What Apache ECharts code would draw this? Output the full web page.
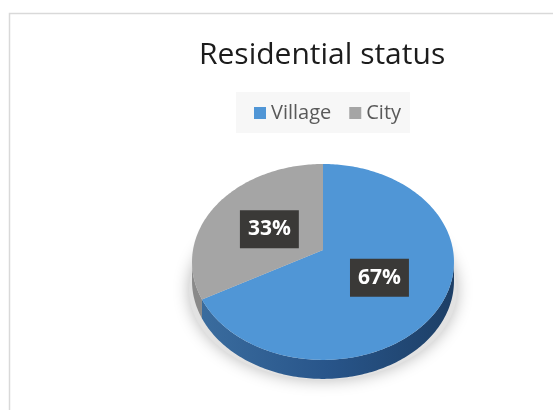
<!DOCTYPE html>
<html>
<head>
<meta charset="utf-8">
<style>
  html, body { margin: 0; padding: 0; background: #fff; }
  #main { width: 553px; height: 410px; }
</style>
<script src="https://cdn.jsdelivr.net/npm/echarts@6/dist/echarts.min.js"></script>
</head>
<body>
<div id="main"></div>
<script>
const titleText = 'Residential status'
const categories = ['Village', 'City']
const shares = [67, 33]
const topColors = ['#5096d6', '#a5a5a5']

// tilted disc: x/y centre of the pie, radii, perspective and wall height
const cx = 323, cy = 250, rx = 130, ry = 96.5, persp = 0.122, depth = 19
const frontFrom = 97, frontTo = 263   // part of the rim that faces the viewer

function project(deg, lift) {
  const a = deg * Math.PI / 180
  const w = 1 + persp * Math.cos(a)
  return [cx + rx * Math.sin(a) / w, cy - ry * Math.cos(a) / w + (lift || 0)]
}

function arcPoints(from, to, lift) {
  const pts = []
  const n = Math.max(2, Math.ceil(Math.abs(to - from)))
  for (let i = 0; i <= n; i++) {
    pts.push(project(from + (to - from) * i / n, lift))
  }
  return pts
}

function wallFill(index) {
  if (index === 1) {
    return '#8a8a8a'
  }
  return {
    type: 'linear', x: 0, y: 0, x2: 1, y2: 0,
    colorStops: [
      { offset: 0, color: '#3a6c9e' },
      { offset: 0.5, color: '#28558a' },
      { offset: 1, color: '#1d3f66' }
    ]
  }
}

function renderSlice(index) {
  return function (params, api) {
    const start = api.value(0) * 3.6
    const end = start + api.value(1) * 3.6
    const mid = (start + end) / 2
    const children = []

    // front wall
    const wallFrom = Math.max(start, frontFrom)
    const wallTo = Math.min(end, frontTo)
    if (wallTo > wallFrom) {
      children.push({
        type: 'polygon',
        shape: { points: arcPoints(wallFrom, wallTo, 0).concat(arcPoints(wallTo, wallFrom, depth)) },
        style: { fill: wallFill(index) }
      })
    }

    // top face
    children.push({
      type: 'polygon',
      shape: { points: [[cx, cy]].concat(arcPoints(start, end, 0)) },
      style: { fill: topColors[index] }
    })

    // percent label
    const a = mid * Math.PI / 180
    const w = 1 + persp * Math.cos(a)
    children.push({
      type: 'text',
      x: cx + 0.49 * rx * Math.sin(a) / w - 2,
      y: cy - 0.49 * ry * Math.cos(a) / w + 2,
      z2: 10,
      style: {
        text: api.value(1) + '%',
        fill: '#fff',
        font: 'bold 21px "Open Sans"',
        align: 'center',
        verticalAlign: 'middle',
        backgroundColor: '#3a3937',
        padding: [9, 8, 8, 8],
        boxShadowBlur: 5,
        boxShadowColor: 'rgba(0,0,0,0.45)',
        boxShadowOffsetX: 2,
        boxShadowOffsetY: 2
      }
    })
    return { type: 'group', children: children }
  }
}

const chart = echarts.init(document.getElementById('main'), null, { renderer: 'canvas' })
let running = 0
const sliceSeries = categories.map((name, i) => {
  const item = {
    name: name,
    type: 'custom',
    coordinateSystem: 'none',
    silent: true,
    animation: false,
    itemStyle: { color: topColors[i] },
    data: [[running, shares[i]]],
    renderItem: renderSlice(i)
  }
  running += shares[i]
  return item
})

chart.setOption({
  animation: false,
  backgroundColor: '#fff',
  title: {
    text: titleText,
    left: 199,
    top: 40,
    padding: 0,
    textStyle: { fontFamily: 'Open Sans', fontSize: 30, fontWeight: 'normal', color: '#1c1c1c' }
  },
  legend: {
    data: categories,
    left: 236,
    top: 92,
    padding: [11, 9, 10, 18],
    backgroundColor: '#f7f7f7',
    icon: 'rect',
    itemWidth: 12,
    itemHeight: 12,
    itemGap: 18,
    selectedMode: false,
    textStyle: { fontFamily: 'Open Sans', fontSize: 20, color: '#595959' }
  },
  graphic: [
    {
      type: 'rect', z: -2, silent: true,
      shape: { x: 9.5, y: 13.5, width: 800, height: 800 },
      style: { fill: 'none', stroke: '#d9d9d9', lineWidth: 1.5 }
    },
    {
      type: 'ellipse', z: -1, silent: true,
      shape: { cx: cx, cy: 290, rx: 134, ry: 90 },
      style: { fill: '#e2e2e2', shadowBlur: 16, shadowColor: 'rgba(0,0,0,0.28)' }
    }
  ],
  series: sliceSeries
})

window.addEventListener('resize', () => chart.resize())
</script>
</body>
</html>
